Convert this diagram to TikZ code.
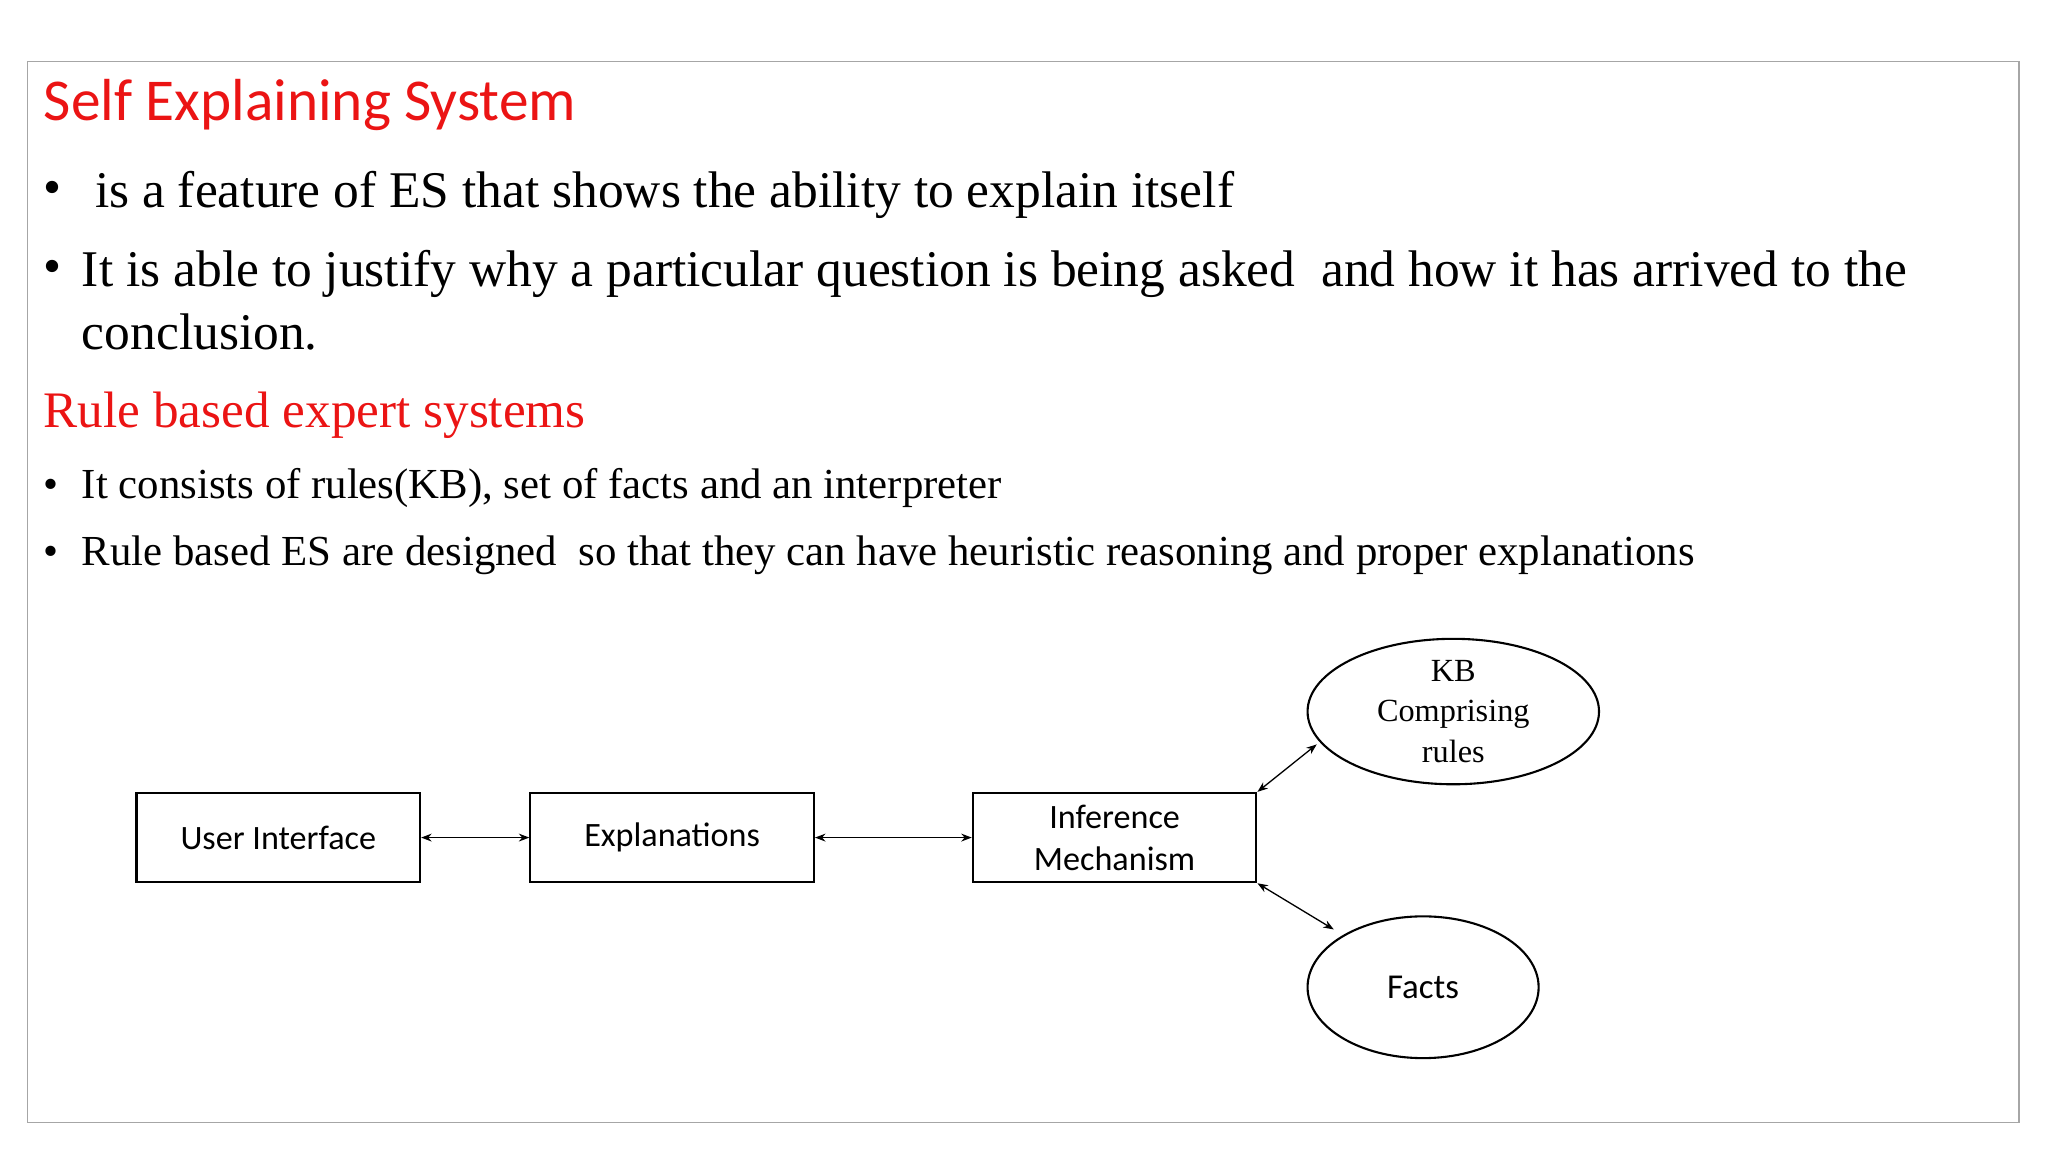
\documentclass[tikz,border=0pt]{standalone}
\usepackage{fontspec}
\setmainfont{Liberation Serif}
\newfontfamily\calfont{Carlito}
\usetikzlibrary{shapes.geometric,arrows.meta}
\definecolor{tred}{RGB}{235,20,20}
\begin{document}
\begin{tikzpicture}[x=0.5pt,y=-0.5pt,
  box/.style={draw,line width=0.8pt,minimum width=108pt,minimum height=34pt,inner sep=0pt,font=\calfont\fontsize{13}{16}\selectfont,align=center},
  ell/.style={draw,ellipse,line width=0.8pt,inner sep=0pt,align=center},
  con/.style={{Stealth[length=4pt]}-{Stealth[length=4pt]},line width=0.5pt},
  tx/.style={anchor=base west,inner sep=0pt},
  big/.style={font=\fontsize{19.6}{22}\selectfont},
  small/.style={font=\fontsize{16.3}{19}\selectfont}]
\useasboundingbox (0,0) rectangle (1560,877.5);
\fill[white] (0,0) rectangle (1560,877.5);
\draw[gray!70,line width=0.6pt] (21,47) rectangle (1538,855);
\node[tx,text=tred,font=\calfont\fontsize{22.6}{26}\selectfont] (t1) at (33,92) {Self Explaining System};
\node[tx,big] (d1) at (33,156) {•};
\node[tx,big] (b1) at (72,158) {is a feature of ES that shows the ability to explain itself};
\node[tx,big] (d2) at (33,216) {•};
\node[tx,big] (b2) at (62,218) {It is able to justify why a particular question is being asked\ \ and how it has arrived to the};
\node[tx,big] (b2b) at (62,266) {conclusion.};
\node[tx,text=tred,font=\fontsize{19.5}{22}\selectfont] (t2) at (33,326) {Rule based expert systems};
\node[tx,small] (d3) at (33,380) {•};
\node[tx,small] (b3) at (62,380) {It consists of rules(KB), set of facts and an interpreter};
\node[tx,small] (d4) at (33,431) {•};
\node[tx,small] (b4) at (62,431) {Rule based ES are designed\ \ so that they can have heuristic reasoning and proper explanations};
\node[box] (ui) at (212,638) {User Interface};
\node[box] (ex) at (512,638) {Explanations};
\node[box] (im) at (849,638) {Inference\\Mechanism};
\node[ell,minimum width=111pt,minimum height=54pt,font=\fontsize{12.3}{15.5}\selectfont] (kb) at (1107,542) {KB\\Comprising\\rules};
\node[ell,minimum width=88pt,minimum height=54pt,font=\calfont\fontsize{13.3}{16}\selectfont] (fa) at (1084,752) {Facts};
\coordinate (kbp) at (1003,567);
\coordinate (fap) at (1016,708);
\draw[con] (ui.east) -- (ex.west);
\draw[con] (ex.east) -- (im.west);
\draw[con] (im.north east) -- (kbp);
\draw[con] (im.south east) -- (fap);
\end{tikzpicture}
\end{document}
